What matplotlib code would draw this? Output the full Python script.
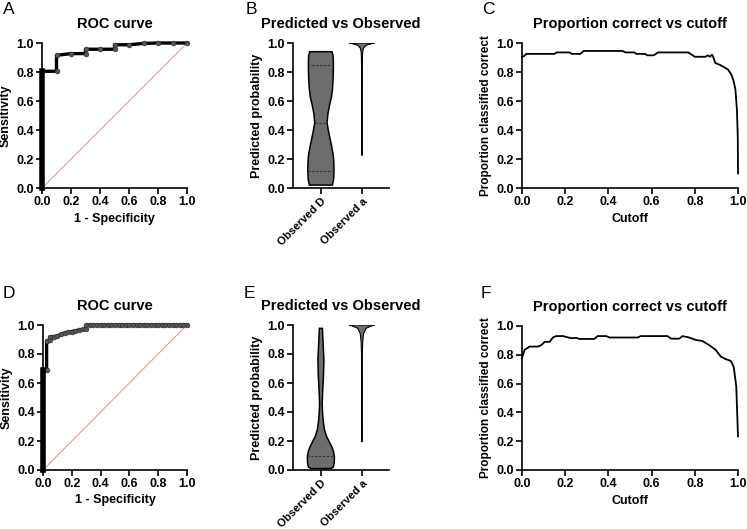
import numpy as np
import matplotlib
matplotlib.use('Agg')
import matplotlib.pyplot as plt

plt.rcParams['font.family'] = ['Liberation Sans', 'DejaVu Sans']
plt.rcParams['font.weight'] = 'bold'
plt.rcParams['axes.labelweight'] = 'bold'
plt.rcParams['axes.titleweight'] = 'bold'


# --- ROC curve, top row (fpr, tpr)
roc_a_fpr = [0.0, 0.0, 0.1, 0.1, 0.2, 0.3, 0.3, 0.4, 0.5, 0.5, 0.6, 0.7, 0.8, 0.9, 1.0]
roc_a_tpr = [0.0, 0.805, 0.805, 0.915, 0.927, 0.927, 0.957, 0.957, 0.957, 0.988, 0.988,
             0.997, 1.0, 1.0, 1.0]

# --- ROC curve, bottom row: false positives out of 40 controls
roc_d_fp = [0, 0, 1, 1, 2, 2, 3, 4, 5, 6, 7, 8, 9, 10, 11, 12, 12, 13, 14, 15, 16, 17, 18,
            19, 20, 21, 22, 23, 24, 25, 26, 27, 28, 29, 30, 31, 32, 33, 34, 35, 36, 37,
            38, 39, 40]
roc_d_tpr = [0.0, 0.69, 0.69, 0.89, 0.90, 0.92, 0.92, 0.925, 0.935, 0.945, 0.95, 0.955,
             0.96, 0.965, 0.97, 0.97, 1.0, 1.0, 1.0, 1.0, 1.0, 1.0, 1.0, 1.0, 1.0, 1.0,
             1.0, 1.0, 1.0, 1.0, 1.0, 1.0, 1.0, 1.0, 1.0, 1.0, 1.0, 1.0, 1.0, 1.0, 1.0,
             1.0, 1.0, 1.0, 1.0]
N_NEG_D = 40

# --- violin outlines: (probability level, half width)
groups = ['Observed D', 'Observed a']
vb_d_y = [0.02, 0.06, 0.12, 0.18, 0.23, 0.29, 0.345, 0.40, 0.45, 0.51, 0.57, 0.63, 0.69,
          0.77, 0.85, 0.91, 0.94]
vb_d_w = [0.28, 0.31, 0.32, 0.315, 0.30, 0.26, 0.22, 0.18, 0.15, 0.17, 0.21, 0.26, 0.285,
          0.30, 0.305, 0.30, 0.27]
vb_d_q = [0.12, 0.45, 0.85]
vb_a_y = [0.225, 0.4, 0.6, 0.8, 0.9, 0.94, 0.965, 0.984, 0.995, 1.0]
vb_a_w = [0.006, 0.006, 0.007, 0.008, 0.012, 0.02, 0.04, 0.1, 0.23, 0.31]

ve_d_y = [0.01, 0.02, 0.05, 0.09, 0.13, 0.16, 0.20, 0.23, 0.28, 0.34, 0.40, 0.46, 0.55,
          0.65, 0.76, 0.85, 0.93, 0.977]
ve_d_w = [0.24, 0.305, 0.325, 0.33, 0.305, 0.265, 0.195, 0.14, 0.085, 0.056, 0.039,
          0.032, 0.044, 0.063, 0.073, 0.058, 0.044, 0.037]
ve_d_q = [0.095]
ve_a_y = [0.195, 0.4, 0.6, 0.8, 0.88, 0.94, 0.977, 0.993, 1.0]
ve_a_w = [0.006, 0.007, 0.008, 0.01, 0.018, 0.04, 0.1, 0.23, 0.31]

# --- proportion correct vs cutoff
pc_c_x = [0.0, 0.01, 0.02, 0.15, 0.16, 0.22, 0.23, 0.27, 0.285, 0.465, 0.48, 0.52, 0.53,
          0.57, 0.58, 0.61, 0.63, 0.77, 0.78, 0.80, 0.85, 0.86, 0.87, 0.88, 0.885, 0.895,
          0.915, 0.94, 0.955, 0.97, 0.98, 0.988, 0.995, 0.999, 1.0]
pc_c_y = [0.905, 0.91, 0.925, 0.925, 0.935, 0.935, 0.925, 0.925, 0.945, 0.945, 0.935,
          0.935, 0.925, 0.925, 0.915, 0.915, 0.935, 0.935, 0.925, 0.905, 0.905, 0.915,
          0.905, 0.92, 0.905, 0.862, 0.85, 0.83, 0.815, 0.78, 0.736, 0.68, 0.54, 0.35, 0.10]
pc_f_x = [0.0, 0.012, 0.035, 0.074, 0.09, 0.105, 0.128, 0.143, 0.158, 0.19, 0.205, 0.228,
          0.25, 0.266, 0.335, 0.35, 0.39, 0.405, 0.535, 0.55, 0.674, 0.69, 0.728, 0.743,
          0.774, 0.805, 0.835, 0.866, 0.897, 0.92, 0.943, 0.966, 0.98, 0.992, 1.0]
pc_f_y = [0.776, 0.834, 0.857, 0.857, 0.868, 0.89, 0.89, 0.92, 0.93, 0.93, 0.924, 0.915,
          0.918, 0.91, 0.91, 0.93, 0.93, 0.92, 0.92, 0.93, 0.93, 0.912, 0.912, 0.93,
          0.92, 0.903, 0.896, 0.868, 0.834, 0.788, 0.77, 0.758, 0.718, 0.58, 0.233]


TICKS = [0.0, 0.2, 0.4, 0.6, 0.8, 1.0]
TICKLABELS = ['%.1f' % t for t in TICKS]
FILL = '#6d6d6d'


def style_axes(ax):
    # GraphPad-like look: left/bottom spines, outward ticks
    for side in ['top', 'right']:
        ax.spines[side].set_visible(False)
    for side in ['left', 'bottom']:
        ax.spines[side].set_linewidth(1.2)
    ax.tick_params(width=1.2, length=4, labelsize=9, pad=2)
    ax.set_ylim(0, 1)
    ax.set_yticks(TICKS)
    ax.set_yticklabels(TICKLABELS, fontweight='bold')


def roc_panel(ax, fpr, tpr):
    ax.plot([0, 1], [0, 1], color='#f08a8a', lw=0.7)
    ax.plot(fpr, tpr, color='black', lw=2.4, marker='o', ms=3.4,
            mfc='#555555', mec='#333333', mew=0.5, clip_on=False, zorder=3)
    ax.plot([0, 0], [0, tpr[1]], color='black', lw=4, clip_on=False, zorder=3)
    style_axes(ax)
    ax.set_xlim(0, 1)
    ax.set_xticks(TICKS)
    ax.set_xticklabels(TICKLABELS, fontweight='bold')
    ax.set_title('ROC curve', fontsize=10.5, pad=11)
    ax.set_xlabel('1 - Specificity', fontsize=9, labelpad=3)
    ax.set_ylabel('Sensitivity', fontsize=9, labelpad=3)


def violin(ax, pos, ys, ws, quart=(), lw=1.1):
    ys = np.array(ys)
    ws = np.array(ws)
    xs = np.concatenate([pos + ws, (pos - ws)[::-1]])
    yy = np.concatenate([ys, ys[::-1]])
    ax.fill(xs, yy, facecolor=FILL, edgecolor='black', lw=lw, zorder=2)
    for q in quart:
        hw = np.interp(q, ys, ws)
        ax.plot([pos - hw, pos + hw], [q, q], color='#333333', lw=0.8,
                ls=(0, (2, 1.5)), zorder=3)


def violin_panel(ax, d_y, d_w, d_q, a_y, a_w):
    violin(ax, 0, d_y, d_w, d_q)
    violin(ax, 1, a_y, a_w, lw=0.8)
    style_axes(ax)
    ax.set_xlim(-0.68, 1.66)
    ax.set_xticks([0, 1])
    ax.set_xticklabels(groups, rotation=45, ha='right', rotation_mode='anchor',
                       fontweight='bold', fontsize=8)
    ax.tick_params(axis='x', pad=2)
    ax.set_title('Predicted vs Observed', fontsize=10.5, pad=11)
    ax.set_ylabel('Predicted probability', fontsize=9, labelpad=3)


def cutoff_panel(ax, xs, ys):
    ax.plot(xs, ys, color='black', lw=1.3, clip_on=False)
    style_axes(ax)
    ax.set_xlim(0, 1)
    ax.set_xticks(TICKS)
    ax.set_xticklabels(TICKLABELS, fontweight='bold')
    ax.set_title('Proportion correct vs cutoff', fontsize=10.5, pad=11)
    ax.set_xlabel('Cutoff', fontsize=9, labelpad=3)
    ax.set_ylabel('Proportion classified correct', fontsize=8.5, labelpad=3)


W, H = 747, 529
fig = plt.figure(figsize=(W / 100, H / 100), dpi=100)


def axes_px(x0, x1, ytop, ybot):
    return fig.add_axes([x0 / W, 1 - ybot / H, (x1 - x0) / W, (ybot - ytop) / H])


ax_a = axes_px(42, 187, 43, 188)
ax_b = axes_px(293, 389, 43, 188)
ax_c = axes_px(522, 738, 43, 188)
ax_d = axes_px(43, 187, 325, 470)
ax_e = axes_px(293, 389, 325, 470)
ax_f = axes_px(522, 738, 326, 470)

roc_panel(ax_a, roc_a_fpr, roc_a_tpr)
roc_panel(ax_d, [v / N_NEG_D for v in roc_d_fp], roc_d_tpr)
violin_panel(ax_b, vb_d_y, vb_d_w, vb_d_q, vb_a_y, vb_a_w)
violin_panel(ax_e, ve_d_y, ve_d_w, ve_d_q, ve_a_y, ve_a_w)
cutoff_panel(ax_c, pc_c_x, pc_c_y)
cutoff_panel(ax_f, pc_f_x, pc_f_y)

# panel letters
letters = [('A', 3, 2), ('B', 246, 2), ('C', 482, 2),
           ('D', 3, 286), ('E', 244, 286), ('F', 481, 286)]
for txt, px, py in letters:
    fig.text(px / W, 1 - py / H, txt, fontsize=12.5, fontweight='normal',
             ha='left', va='top')

fig.savefig('out.png', dpi=100)
